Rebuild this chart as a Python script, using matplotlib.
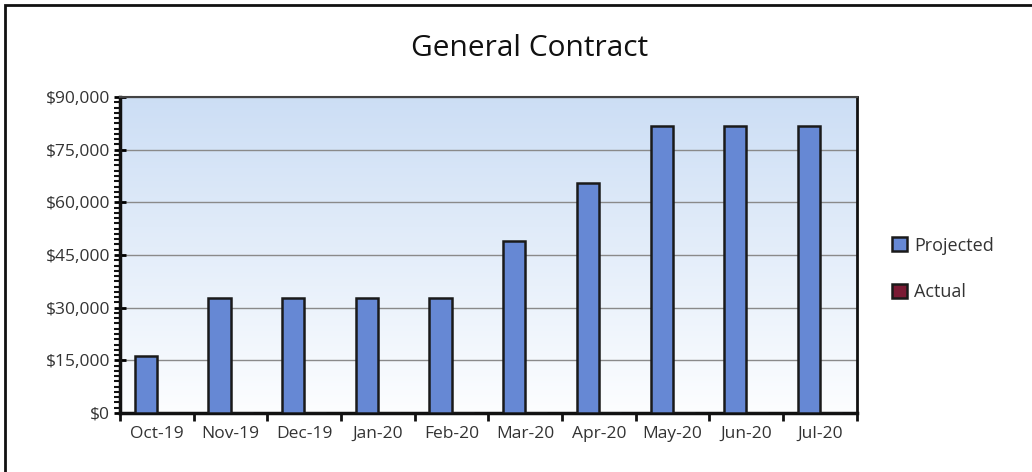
import numpy as np
import matplotlib.pyplot as plt
from matplotlib.ticker import FuncFormatter, MultipleLocator
from matplotlib.patches import Rectangle

months = ['Oct-19', 'Nov-19', 'Dec-19', 'Jan-20', 'Feb-20',
          'Mar-20', 'Apr-20', 'May-20', 'Jun-20', 'Jul-20']
projected = [16350, 32700, 32700, 32700, 32700, 49050, 65400, 81750, 81750, 81750]
actual = [0, 0, 0, 0, 0, 0, 0, 0, 0, 0]

plt.rcParams['font.family'] = ['Open Sans', 'DejaVu Sans']
txt = '#333333'

fig = plt.figure(figsize=(10.32, 4.72), dpi=100)
ax = fig.add_axes([0.1163, 0.125, 0.714, 0.6695])

x = np.arange(len(months))
w = 0.3
ax.bar(x - w / 2, projected, width=w, color='#6688d4', edgecolor='#1a1a1a',
       linewidth=1.8, label='Projected', zorder=3)
ax.bar(x + w / 2, actual, width=w, color='#7a1a34', edgecolor='#1a1a1a',
       linewidth=1.8, label='Actual', zorder=3)

ax.set_xlim(-0.5, len(months) - 0.5)
ax.set_ylim(0, 90000)

# gradient background: light blue on top, near white at bottom
grad = np.linspace(0, 1, 256).reshape(-1, 1)
top = np.array([0.80, 0.87, 0.96])
bot = np.array([0.99, 0.995, 1.0])
img = bot + (top - bot) * grad[..., None]
ax.imshow(img, extent=[-0.5, len(months) - 0.5, 0, 90000], origin='lower',
          aspect='auto', zorder=0)

ax.yaxis.set_major_locator(MultipleLocator(15000))
ax.yaxis.set_minor_locator(MultipleLocator(1500))
ax.yaxis.set_major_formatter(FuncFormatter(lambda v, p: '${:,.0f}'.format(v)))
ax.grid(axis='y', color='#8a8a8a', linewidth=1.0, zorder=1)

ax.set_xticks(x)
ax.set_xticklabels(months)
ax.set_xticks(np.arange(-0.5, len(months)), minor=True)
ax.tick_params(axis='x', which='major', length=0, pad=9, labelsize=12.5, labelcolor=txt)
ax.tick_params(axis='x', which='minor', length=6, width=2, direction='out', color='#111111')
ax.tick_params(axis='y', which='major', length=8, width=2, direction='inout',
               labelsize=12.5, labelcolor=txt, pad=3)
ax.tick_params(axis='y', which='minor', length=4, width=1.5, direction='out', color='#111111')

for side in ['left', 'bottom']:
    ax.spines[side].set_linewidth(2.5)
    ax.spines[side].set_color('#111111')
ax.spines['right'].set_linewidth(2)
ax.spines['right'].set_color('#111111')
ax.spines['top'].set_linewidth(1.5)
ax.spines['top'].set_color('#444444')

fig.text(0.513, 0.898, 'General Contract', ha='center', va='center',
         fontsize=21.5, color='#111111')

leg = fig.legend(loc='center left', bbox_to_anchor=(0.849, 0.43), frameon=False,
                 fontsize=13, handlelength=0.8, handleheight=0.8,
                 handletextpad=0.4, labelspacing=1.6)
for t in leg.get_texts():
    t.set_color(txt)

# chart border
fig.patches.append(Rectangle((0.005, -0.01), 1.2, 0.999, transform=fig.transFigure,
                             fill=False, edgecolor='#111111', linewidth=2))

fig.savefig('out.png', dpi=100)
